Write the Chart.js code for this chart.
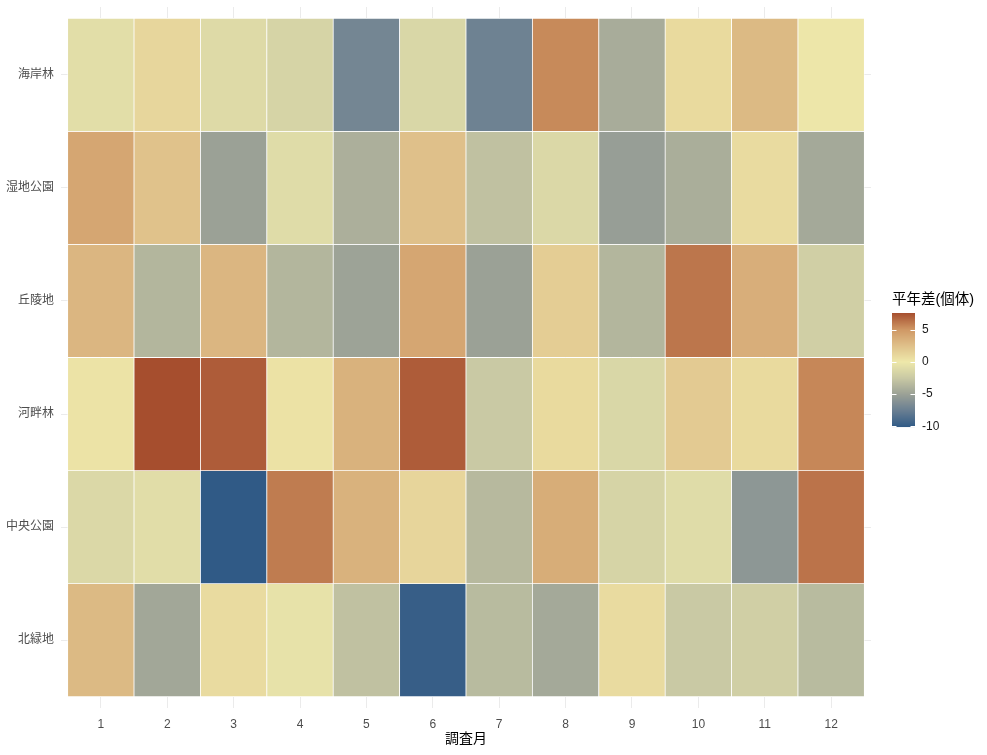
<!DOCTYPE html>
<html><head><meta charset="utf-8">
<script src="https://cdn.jsdelivr.net/npm/chart.js@4.4.1/dist/chart.umd.min.js"></script>
<style>html,body{margin:0;padding:0;background:#fff;overflow:hidden}#wrap{width:987px;height:755px;position:relative}</style>
</head><body><div id="wrap"><canvas id="c"></canvas></div>
<script>
// ---- data ----
const months = [1,2,3,4,5,6,7,8,9,10,11,12];
const sites = ['海岸林','湿地公園','丘陵地','河畔林','中央公園','北緑地']; // top to bottom
const kaiganrin    = [-0.8, 1.1, -1.1, -1.6, -7.0, -1.4, -7.3, 5.5, -4.3, 0.9, 2.9, 0.1];
const shitchiKoen  = [4.1, 2.4, -5.0, -1.0, -4.1, 2.5, -3.0, -1.3, -5.2, -4.2, 0.8, -4.5];
const kyuryochi    = [3.1, -3.7, 3.1, -3.7, -4.9, 4.1, -5.0, 1.7, -3.7, 6.2, 3.6, -2.0];
const kahanrin     = [0.3, 7.6, 7.1, 0.4, 3.4, 7.1, -2.5, 0.9, -1.4, 1.9, 0.9, 5.6];
const chuoKoen     = [-1.3, -0.9, -10.1, 6.0, 3.4, 1.2, -3.5, 3.7, -1.6, -1.0, -5.7, 6.3];
const kitaRyokuchi = [2.9, -4.6, 0.8, -0.5, -3.0, -9.8, -3.4, -4.5, 0.8, -2.5, -2.0, -3.4];
const legendTicks = [-10, -5, 0, 5];
const rows = [kaiganrin, shitchiKoen, kyuryochi, kahanrin, chuoKoen, kitaRyokuchi];

// ---- colour scale (style) ----
const colorStops = [
  [-10.1,[48,90,134]],[-7.5,[106,127,146]],[-5,[155,161,150]],[-2.5,[201,201,164]],
  [0,[238,232,170]],[2.5,[223,192,138]],[5,[207,152,101]],[7.6,[166,78,46]]
];
function colorFor(v){
  if (v <= colorStops[0][0]) { const c = colorStops[0][1]; return `rgb(${c[0]},${c[1]},${c[2]})`; }
  for (let i=1;i<colorStops.length;i++){
    const [v1,c1] = colorStops[i];
    if (v <= v1){
      const [v0,c0] = colorStops[i-1];
      const t = (v - v0)/(v1 - v0);
      const c = c0.map((x,k)=>Math.round(x + (c1[k]-x)*t));
      return `rgb(${c[0]},${c[1]},${c[2]})`;
    }
  }
  const c = colorStops[colorStops.length-1][1];
  return `rgb(${c[0]},${c[1]},${c[2]})`;
}

const FONT = "'Liberation Sans', 'Noto Sans CJK JP', sans-serif";

const datasets = rows.map((vals, r) => {
  const yc = sites.length - r;
  return {
    label: sites[r],
    data: months.map((m, j) => ({x: m, y: [yc - 0.5, yc + 0.5], v: vals[j]})),
    backgroundColor: ctx => colorFor(ctx.raw.v),
    borderColor: '#ffffff',
    borderWidth: 0.75,
    borderSkipped: false,
    grouped: false,
    barPercentage: 1,
    categoryPercentage: 1
  };
});

const colorbar = {
  id: 'colorbar',
  afterDraw(chart){
    const ctx = chart.ctx;
    const all = rows.flat();
    const vmin = Math.min(...all), vmax = Math.max(...all);
    const x0 = 892, w = 23, top = 313, bottom = 427;
    const yOf = v => bottom - (v - vmin)/(vmax - vmin)*(bottom - top);
    ctx.save();
    for (let y = top; y < bottom; y++){
      const v = vmin + (bottom - y - 0.5)/(bottom - top)*(vmax - vmin);
      ctx.fillStyle = colorFor(v);
      ctx.fillRect(x0, y, w, 1.05);
    }
    ctx.strokeStyle = '#ffffff'; ctx.lineWidth = 1;
    ctx.fillStyle = '#1a1a1a';
    ctx.font = `12px ${FONT}`;
    ctx.textAlign = 'left'; ctx.textBaseline = 'middle';
    legendTicks.forEach(t => {
      const y = Math.round(yOf(t)) + 0.5;
      ctx.beginPath();
      ctx.moveTo(x0, y); ctx.lineTo(x0 + 4.5, y);
      ctx.moveTo(x0 + w - 4.5, y); ctx.lineTo(x0 + w, y);
      ctx.stroke();
      ctx.fillText(String(t), 922, yOf(t));
    });
    ctx.fillStyle = '#000';
    ctx.font = `14.5px ${FONT}`;
    ctx.fillText('平年差(個体)', 892, 300);
    ctx.restore();
  }
};

new Chart(document.getElementById('c'), {
  type: 'bar',
  data: { datasets },
  plugins: [colorbar],
  options: {
    responsive: true,
    maintainAspectRatio: false,
    animation: false,
    layout: { padding: { top: 7, right: 116, left: 0, bottom: 0 } },
    plugins: { legend: { display: false }, tooltip: { enabled: false } },
    scales: {
      x: {
        type: 'linear', min: 0.4, max: 12.6, offset: false,
        afterBuildTicks: s => { s.ticks = months.map(m => ({value: m})); },
        afterFit: s => { s.height = 47; s.paddingLeft = 0; s.paddingRight = 0; },
        grid: { color: '#ebebeb', lineWidth: 1, drawTicks: false, offset: false },
        border: { display: false },
        ticks: { color: '#4d4d4d', font: { family: FONT, size: 12 }, padding: 9, callback: v => String(v) },
        title: { display: true, text: '調査月', color: '#000', font: { family: FONT, size: 14 }, padding: { top: 0, bottom: 7.5 } }
      },
      y: {
        type: 'linear', min: 0.4, max: 6.6,
        afterBuildTicks: s => { s.ticks = [1,2,3,4,5,6].map(v => ({value: v})); },
        afterFit: s => { s.width = 61; s.paddingTop = 0; s.paddingBottom = 0; },
        grid: { color: '#ebebeb', lineWidth: 1, drawTicks: false, offset: false },
        border: { display: false },
        ticks: { color: '#4d4d4d', font: { family: FONT, size: 12 }, padding: 7, callback: v => sites[sites.length - v] }
      }
    }
  }
});
</script>
</body></html>
